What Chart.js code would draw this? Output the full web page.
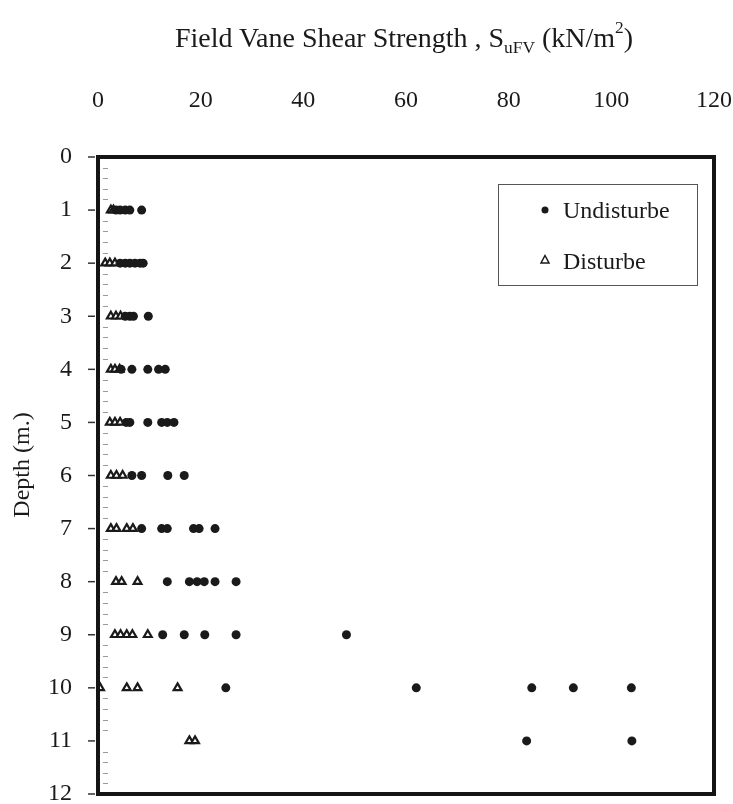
<!DOCTYPE html>
<html>
<head>
<meta charset="utf-8">
<script src="https://cdn.jsdelivr.net/npm/chart.js@4"></script>
<style>
  html, body { margin: 0; padding: 0; background: #fff; }
  #wrap { position: relative; width: 733px; height: 804px; }
  #title {
    position: absolute; top: 22px; left: 404px; transform: translateX(-50%);
    font-family: "Liberation Serif", "DejaVu Serif", serif; font-size: 28px;
    color: #1a1a1a; white-space: nowrap; line-height: 32px;
  }
  #title sub { font-size: 0.62em; vertical-align: -0.35em; line-height: 0; }
  #title sup { font-size: 0.62em; vertical-align: 0.8em; line-height: 0; }
  canvas { display: block; }
</style>
</head>
<body>
<div id="wrap">
  <canvas id="c" width="733" height="804"></canvas>
  <div id="title">Field Vane Shear Strength , S<sub>uFV</sub> (kN/m<sup>2</sup>)</div>
</div>
<script>
// ---- data ----
const depthLevels = [1, 2, 3, 4, 5, 6, 7, 8, 9, 10, 11];

const undisturbedByDepth = [
  [3.5, 4.3, 5.3, 6.2, 8.5],
  [4.3, 5.3, 6.2, 7.2, 8.2, 8.8],
  [5.3, 6.2, 6.9, 9.8],
  [4.5, 6.6, 9.7, 11.8, 13.1],
  [5.5, 6.2, 9.7, 12.4, 13.5, 14.8],
  [6.6, 8.5, 13.6, 16.8],
  [8.5, 12.4, 13.5, 18.6, 19.7, 22.8],
  [13.5, 17.8, 19.3, 20.7, 22.8, 26.9],
  [12.6, 16.8, 20.8, 26.9, 48.4],
  [24.9, 62.0, 84.5, 92.6, 103.9],
  [83.5, 104.0]
];

const disturbedByDepth = [
  [2.5, 3.0],
  [1.4, 2.3, 3.3],
  [2.5, 3.5, 4.4],
  [2.5, 3.3, 4.2],
  [2.3, 3.3, 4.3],
  [2.5, 3.6, 4.8],
  [2.5, 3.6, 5.6, 6.8],
  [3.5, 4.6, 7.7],
  [3.3, 4.4, 5.6, 6.7, 9.7],
  [0.4, 5.6, 7.7, 15.5],
  [17.8, 18.9]
];

const xTickValues = [0, 20, 40, 60, 80, 100, 120];
const yTickValues = [0, 1, 2, 3, 4, 5, 6, 7, 8, 9, 10, 11, 12];
const seriesNames = ['Undisturbe', 'Disturbe'];
const yAxisTitle = 'Depth (m.)';

// ---- build points ----
function toPoints(byDepth) {
  const pts = [];
  byDepth.forEach((vals, i) => vals.forEach(v => pts.push({ x: v, y: depthLevels[i] })));
  return pts;
}

const FONT = '"Liberation Serif", "DejaVu Serif", serif';
const INK = '#1a1a1a';

const framePlugin = {
  id: 'frame',
  afterDatasetsDraw(chart) {
    const { ctx, chartArea: a, scales } = chart;
    const ys = scales.y;
    ctx.save();
    // minor ticks inside left axis
    ctx.strokeStyle = '#9a9a9a';
    ctx.lineWidth = 1;
    for (let k = 0; k <= 60; k++) {
      if (k % 5 === 0) continue;
      const py = Math.round(ys.getPixelForValue(k / 5)) + 0.5;
      ctx.beginPath(); ctx.moveTo(a.left + 5, py); ctx.lineTo(a.left + 10, py); ctx.stroke();
    }
    // major ticks outside left axis
    ctx.strokeStyle = '#333';
    ctx.lineWidth = 1.5;
    yTickValues.forEach(v => {
      const py = ys.getPixelForValue(v);
      ctx.beginPath(); ctx.moveTo(a.left - 10, py); ctx.lineTo(a.left - 3, py); ctx.stroke();
    });
    // frame
    ctx.strokeStyle = '#151515';
    ctx.lineWidth = 4;
    ctx.strokeRect(a.left, a.top, a.right - a.left, a.bottom - a.top);

    // legend box
    ctx.lineWidth = 1;
    ctx.strokeStyle = '#555';
    ctx.strokeRect(498.5, 184.5, 199, 101);
    // legend markers
    ctx.fillStyle = INK;
    ctx.beginPath(); ctx.arc(545, 210, 3.5, 0, Math.PI * 2); ctx.fill();
    ctx.fillStyle = '#fff';
    ctx.strokeStyle = INK;
    ctx.lineWidth = 1.5;
    ctx.beginPath();
    ctx.moveTo(545, 255.5); ctx.lineTo(549, 263); ctx.lineTo(541, 263); ctx.closePath();
    ctx.fill(); ctx.stroke();
    ctx.fillStyle = INK;
    ctx.font = '24px ' + FONT;
    ctx.textBaseline = 'middle';
    ctx.textAlign = 'left';
    ctx.fillText(seriesNames[0], 563, 212);
    ctx.fillText(seriesNames[1], 563, 263);

    // y axis title
    ctx.translate(23, 465);
    ctx.rotate(-Math.PI / 2);
    ctx.textAlign = 'center';
    ctx.fillText(yAxisTitle, 0, 0);
    ctx.restore();
  }
};

new Chart(document.getElementById('c'), {
  type: 'scatter',
  data: {
    datasets: [
      {
        label: seriesNames[0],
        data: toPoints(undisturbedByDepth),
        pointStyle: 'circle',
        pointRadius: 4.5,
        backgroundColor: INK,
        borderColor: INK,
        borderWidth: 0
      },
      {
        label: seriesNames[1],
        data: toPoints(disturbedByDepth),
        pointStyle: 'triangle',
        pointRadius: 4.5,
        backgroundColor: '#fff',
        borderColor: INK,
        borderWidth: 2.2
      }
    ]
  },
  options: {
    responsive: false,
    animation: false,
    layout: { padding: { top: 0, left: 0, right: 19, bottom: 10 } },
    plugins: { legend: { display: false }, tooltip: { enabled: false }, title: { display: false } },
    scales: {
      x: {
        type: 'linear', position: 'top', min: 0, max: 120,
        afterFit(s) { s.height = 157; s.paddingLeft = 0; s.paddingRight = 0; },
        afterBuildTicks(s) { s.ticks = xTickValues.map(v => ({ value: v })); },
        grid: { display: false, drawTicks: false },
        border: { display: false },
        ticks: { font: { family: FONT, size: 24 }, color: INK, padding: 42, maxRotation: 0 }
      },
      y: {
        type: 'linear', reverse: true, min: 0, max: 12,
        afterFit(s) { s.width = 98; s.paddingTop = 0; s.paddingBottom = 0; },
        afterBuildTicks(s) { s.ticks = yTickValues.map(v => ({ value: v })); },
        grid: { display: false, drawTicks: false },
        border: { display: false },
        ticks: { font: { family: FONT, size: 24 }, color: INK, padding: 26 }
      }
    }
  },
  plugins: [framePlugin]
});
</script>
</body>
</html>
